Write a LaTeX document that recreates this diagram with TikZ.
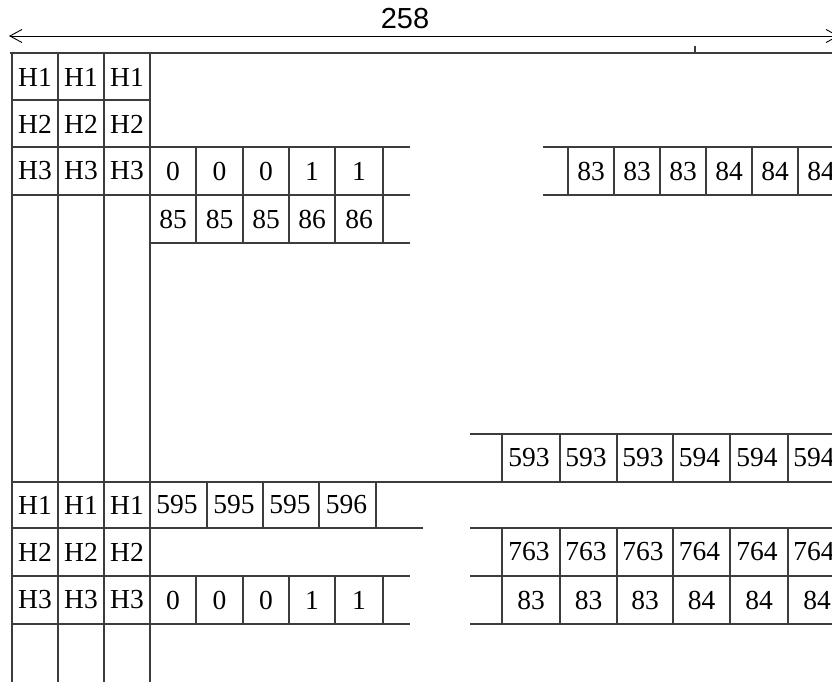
\documentclass[tikz,border=0pt]{standalone}
\usepackage{fontspec}
\usepackage{tikz}
\usetikzlibrary{arrows.meta}
\newfontfamily\cellfont{Liberation Serif}
\newfontfamily\dimfont{Liberation Sans}
\definecolor{gridgray}{RGB}{60,60,60}

\tikzset{
  gridline/.style={line width=1.7pt, gridgray},
  cell/.style={inner sep=0pt, font=\cellfont\fontsize{27.5}{27.5}\selectfont},
  dimline/.style={line width=0.9pt, black, {Straight Barb[length=12pt,width=13pt]}-{Straight Barb[length=12pt,width=13pt]}}
}

\begin{document}
\begin{tikzpicture}[x=1pt, y=-1pt]
  \useasboundingbox (0,0) rectangle (832,682);
  \clip (0,0) rectangle (832,682);
  % width arrow
  \coordinate (dimL) at (9,36);
  \coordinate (dimR) at (839,36);
  \draw[dimline] (dimL) -- (dimR);
  \node[inner sep=0pt, font=\dimfont\fontsize{29}{29}\selectfont] (width) at (405,19) {258};

  % header columns
  \foreach \x in {12,58,104,150}
    \draw[gridline] (\x,53) -- (\x,682);
  \draw[gridline] (10,53) -- (832,53);
  \draw[gridline] (695,46) -- (695,53);
  \draw[gridline] (12,100) -- (150,100);
  \draw[gridline] (12,147) -- (410,147);
  \draw[gridline] (12,195) -- (410,195);
  \draw[gridline] (150,243) -- (410,243);
  \draw[gridline] (543,147) -- (832,147);
  \draw[gridline] (543,195) -- (832,195);
  \draw[gridline] (470,434) -- (832,434);
  \draw[gridline] (12,482) -- (832,482);
  \draw[gridline] (12,528) -- (423,528);
  \draw[gridline] (470,528) -- (832,528);
  \draw[gridline] (12,576) -- (410,576);
  \draw[gridline] (470,576) -- (832,576);
  \draw[gridline] (12,624) -- (410,624);
  \draw[gridline] (470,624) -- (832,624);

  % cell borders
  \foreach \x in {196,243,289,335,383} {
    \draw[gridline] (\x,147) -- (\x,243);
    \draw[gridline] (\x,576) -- (\x,624);
  }
  \foreach \x in {568,614,660,706,752,798}
    \draw[gridline] (\x,147) -- (\x,195);
  \foreach \x in {502,560,617,673,730,788} {
    \draw[gridline] (\x,434) -- (\x,482);
    \draw[gridline] (\x,528) -- (\x,624);
  }
  \foreach \x in {207,263,319,376}
    \draw[gridline] (\x,482) -- (\x,528);

  % headers
  \foreach \x [count=\i] in {35,81,127} {
    \node[cell] (ha\i) at (\x,77) {H1};
    \node[cell] (hb\i) at (\x,124) {H2};
    \node[cell] (hc\i) at (\x,171) {H3};
    \node[cell] (hd\i) at (\x,505) {H1};
    \node[cell] (he\i) at (\x,552) {H2};
    \node[cell] (hf\i) at (\x,600) {H3};
  }

  % values
  \foreach \x/\v [count=\i] in {173/0,219.5/0,266/0,312/1,359/1} {
    \node[cell] (za\i) at (\x,171) {\v};
    \node[cell] (zb\i) at (\x,600) {\v};
  }
  \foreach \x/\v [count=\i] in {173/85,219.5/85,266/85,312/86,359/86}
    \node[cell] (pa\i) at (\x,219) {\v};
  \foreach \x/\v [count=\i] in {591/83,637/83,683/83,729/84,775/84,821/84}
    \node[cell] (qa\i) at (\x,171) {\v};
  \foreach \x/\v [count=\i] in {529/593,586/593,643/593,699.5/594,757/594,814/594}
    \node[cell] (ra\i) at (\x,458) {\v};
  \foreach \x/\v [count=\i] in {177/595,234/595,290/595,346.5/596}
    \node[cell] (sa\i) at (\x,505) {\v};
  \foreach \x/\v [count=\i] in {529/763,586/763,643/763,699.5/764,757/764,814/764}
    \node[cell] (ta\i) at (\x,552) {\v};
  \foreach \x/\v [count=\i] in {531/83,588.5/83,645/83,701.5/84,759/84,817/84}
    \node[cell] (ua\i) at (\x,600) {\v};
\end{tikzpicture}
\end{document}
